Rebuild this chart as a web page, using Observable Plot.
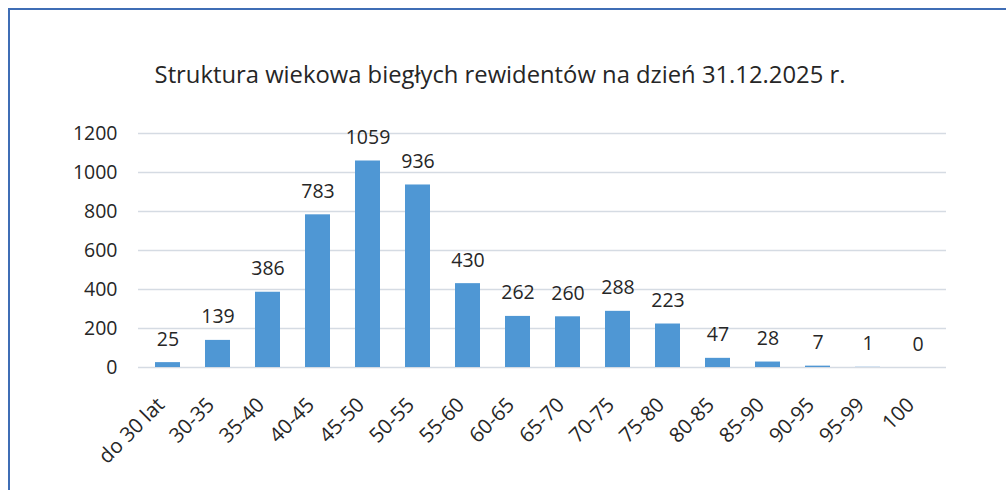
<!DOCTYPE html>
<html>
<head>
<meta charset="utf-8">
<script src="https://cdn.jsdelivr.net/npm/d3@7"></script>
<script src="https://cdn.jsdelivr.net/npm/@observablehq/plot@0.6"></script>
<style>
  html, body { margin: 0; padding: 0; background: #fff; }
  #wrap { position: relative; width: 1006px; height: 490px; overflow: hidden; font-family: "Open Sans", sans-serif; }
  #frame { position: absolute; left: 8px; top: 8px; width: 1200px; height: 700px; border: 2px solid #3f6db5; box-sizing: border-box; }
  #title { position: absolute; left: 0; width: 1000px; top: 58px; text-align: center; font-size: 23.8px; line-height: 32px; color: #262626; white-space: nowrap; }
  #chart { position: absolute; left: 0; top: 0; }
</style>
</head>
<body>
<div id="wrap">
  <div id="frame"></div>
  <div id="title">Struktura wiekowa biegłych rewidentów na dzień 31.12.2025 r.</div>
  <div id="chart"></div>
</div>
<script>
const categories = ["do 30 lat","30-35","35-40","40-45","45-50","50-55","55-60","60-65","65-70","70-75","75-80","80-85","85-90","90-95","95-99","100"];
const counts = [25,139,386,783,1059,936,430,262,260,288,223,47,28,7,1,0];
const yTicks = [0,200,400,600,800,1000,1200];

const data = categories.map((c, i) => ({age: c, n: counts[i]}));

const chart = Plot.plot({
  width: 1006,
  height: 490,
  marginLeft: 138,
  marginRight: 60,
  marginTop: 133,
  marginBottom: 123,
  style: {fontFamily: "'Open Sans', sans-serif", fontSize: "19px", color: "#262626", background: "transparent", overflow: "visible"},
  x: {domain: categories, paddingInner: 0.5, paddingOuter: 0.25, label: null, axis: null},
  y: {domain: [0, 1200], ticks: yTicks, label: null},
  marks: [
    Plot.gridY(yTicks, {stroke: "#d5dbe3", strokeOpacity: 1, strokeWidth: 1.5}),
    Plot.barY(data, {x: "age", y: "n", fill: "#4f97d4"}),
    Plot.text(data, {x: "age", y: "n", text: d => String(d.n), lineAnchor: "bottom", dy: -17, fontSize: 19.5, fill: "#262626"}),
    Plot.axisY(yTicks, {tickSize: 0, tickPadding: 21, fontSize: 19.5, fill: "#262626", label: null, tickFormat: d => String(d)}),
    Plot.text(categories, {x: d => d, y: 0, text: d => d, rotate: -45, textAnchor: "end", lineAnchor: "middle", dx: -7, dy: 34, fontSize: 20.5, fill: "#262626"})
  ]
});
document.getElementById("chart").appendChild(chart);
</script>
</body>
</html>
